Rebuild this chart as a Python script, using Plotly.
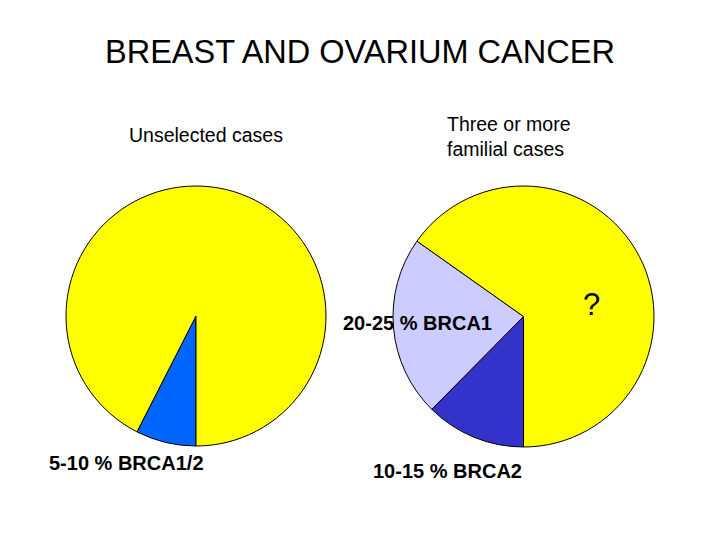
import plotly.graph_objects as go

W, H = 720, 540
OX, OY = -8, -8  # page body margin compensation

# Data
left_labels = ["BRCA1/2", "Other"]
left_values = [7.5, 92.5]
left_colors = ["#0066FF", "#FFFF00"]

right_labels = ["BRCA2", "BRCA1", "Unknown"]
right_values = [12.4, 22.4, 65.2]
right_colors = ["#3333CC", "#CCCCFF", "#FFFF00"]

title_text = "BREAST AND OVARIUM CANCER"
left_title = "Unselected cases"
right_title = "Three or more<br>familial cases"

def px_dom(cx, cy, r):
    cx += OX
    cy += OY
    return dict(x=[(cx - r) / W, (cx + r) / W], y=[1 - (cy + r) / H, 1 - (cy - r) / H])

fig = go.Figure()
fig.add_trace(go.Pie(
    labels=left_labels, values=left_values, sort=False, direction="clockwise",
    rotation=180, marker=dict(colors=left_colors, line=dict(color="#000000", width=1)),
    textinfo="none", hoverinfo="label+percent", domain=px_dom(196, 316, 130),
    showlegend=False,
))
fig.add_trace(go.Pie(
    labels=right_labels, values=right_values, sort=False, direction="clockwise",
    rotation=180, marker=dict(colors=right_colors, line=dict(color="#000000", width=1)),
    textinfo="none", hoverinfo="label+percent", domain=px_dom(523.5, 316.5, 130.5),
    showlegend=False,
))

F = "Liberation Sans, Arial, sans-serif"

def ann(text, x, y, size, bold=False, xanchor="center", align="center"):
    fig.add_annotation(
        text=f"<b>{text}</b>" if bold else text,
        x=(x + OX) / W, y=1 - (y + OY) / H, xref="paper", yref="paper",
        xanchor=xanchor, yanchor="middle", align=align, showarrow=False,
        font=dict(family=F, size=size, color="#000000"),
    )

ann(title_text, 360, 52, 32.5)
ann(left_title, 206, 135, 19.5)
ann(right_title, 445, 136, 19.5, xanchor="left", align="left")
ann("5-10 % BRCA1/2", 126, 463, 20, bold=True)
ann("20-25 % BRCA1", 417.5, 323, 20, bold=True)
ann("10-15 % BRCA2", 447.5, 471, 20, bold=True)
ann("?", 591, 304, 31)

fig.update_layout(
    width=W, height=H, margin=dict(l=0, r=0, t=0, b=0),
    paper_bgcolor="#FFFFFF", plot_bgcolor="#FFFFFF",
)
fig.write_html("out.html")
